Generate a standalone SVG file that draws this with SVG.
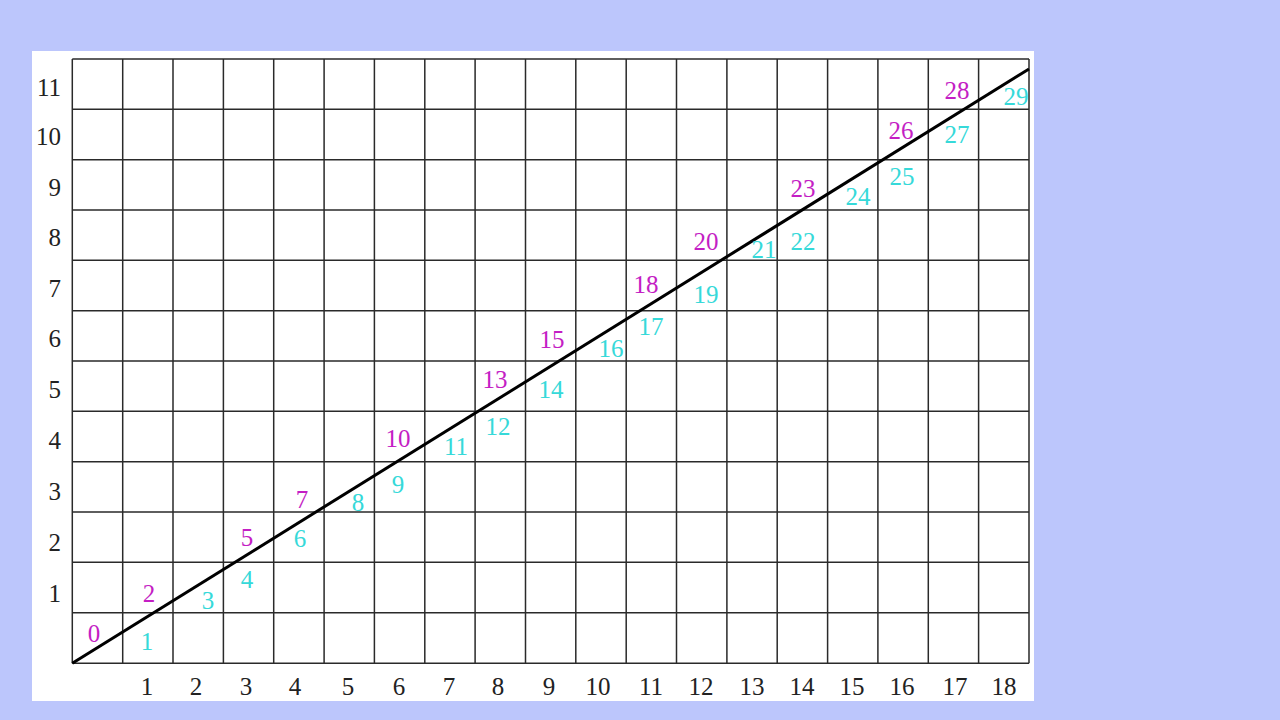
<svg xmlns="http://www.w3.org/2000/svg" width="1280" height="720" viewBox="0 0 1280 720">
<style>
.grid{stroke:#2a2a2a;stroke-width:1.5;fill:none}
.ax{font-family:"Liberation Serif","DejaVu Serif",serif;font-size:25px;fill:#222}
.m{font-family:"Liberation Serif","DejaVu Serif",serif;font-size:25px;fill:#c41ec4;text-anchor:middle}
.c{font-family:"Liberation Serif","DejaVu Serif",serif;font-size:25px;fill:#36d9d9;text-anchor:middle}
</style>
<rect x="0" y="0" width="1280" height="720" fill="#bcc6fc"/>
<rect x="32" y="51" width="1002" height="650" fill="#ffffff"/>
<g id="grid" class="grid">
<path d="M72.3 59V663.3M122.7 59V663.3M173 59V663.3M223.4 59V663.3M273.7 59V663.3M324.1 59V663.3M374.4 59V663.3M424.8 59V663.3M475.1 59V663.3M525.5 59V663.3M575.8 59V663.3M626.2 59V663.3M676.5 59V663.3M726.9 59V663.3M777.2 59V663.3M827.6 59V663.3M877.9 59V663.3M928.3 59V663.3M978.6 59V663.3M1029 59V663.3"/>
<path d="M72.3 59H1029M72.3 109.3H1029M72.3 159.7H1029M72.3 210H1029M72.3 260.3H1029M72.3 310.7H1029M72.3 361H1029M72.3 411.3H1029M72.3 461.7H1029M72.3 512H1029M72.3 562.3H1029M72.3 612.7H1029M72.3 663.3H1029"/>
</g>
<g id="connectors">
<line x1="72.3" y1="663.3" x2="1029" y2="69" stroke="#000" stroke-width="3"/>
</g>
<g id="x-axis" class="ax" text-anchor="middle">
<text x="147" y="695">1</text><text x="196" y="695">2</text><text x="246" y="695">3</text><text x="295" y="695">4</text><text x="348" y="695">5</text><text x="399" y="695">6</text><text x="449" y="695">7</text><text x="498" y="695">8</text><text x="549" y="695">9</text><text x="598" y="695">10</text><text x="651" y="695">11</text><text x="701" y="695">12</text><text x="752" y="695">13</text><text x="802" y="695">14</text><text x="852" y="695">15</text><text x="902" y="695">16</text><text x="955" y="695">17</text><text x="1004" y="695">18</text>
</g>
<g id="y-axis" class="ax" text-anchor="end">
<text x="61" y="602">1</text><text x="61" y="551">2</text><text x="61" y="500">3</text><text x="61" y="449">4</text><text x="61" y="398">5</text><text x="61" y="347">6</text><text x="61" y="297">7</text><text x="61" y="246">8</text><text x="61" y="196">9</text><text x="61" y="145">10</text><text x="61" y="96">11</text>
</g>
<g id="upper-labels">
<text class="m" x="94" y="642">0</text>
<text class="m" x="149" y="602">2</text>
<text class="m" x="247" y="546">5</text>
<text class="m" x="302" y="508">7</text>
<text class="m" x="398" y="447">10</text>
<text class="m" x="495" y="388">13</text>
<text class="m" x="552" y="348">15</text>
<text class="m" x="646" y="293">18</text>
<text class="m" x="706" y="250">20</text>
<text class="m" x="803" y="197">23</text>
<text class="m" x="901" y="139">26</text>
<text class="m" x="957" y="99">28</text>
</g>
<g id="lower-labels">
<text class="c" x="147" y="650">1</text>
<text class="c" x="208" y="609">3</text>
<text class="c" x="247" y="588">4</text>
<text class="c" x="300" y="547">6</text>
<text class="c" x="358" y="511">8</text>
<text class="c" x="398" y="493">9</text>
<text class="c" x="456" y="455">11</text>
<text class="c" x="498" y="435">12</text>
<text class="c" x="551" y="398">14</text>
<text class="c" x="611" y="357">16</text>
<text class="c" x="651" y="335">17</text>
<text class="c" x="706" y="303">19</text>
<text class="c" x="764" y="258">21</text>
<text class="c" x="803" y="250">22</text>
<text class="c" x="858" y="205">24</text>
<text class="c" x="902" y="185">25</text>
<text class="c" x="957" y="143">27</text>
<text class="c" x="1016" y="105">29</text>
</g>
</svg>
